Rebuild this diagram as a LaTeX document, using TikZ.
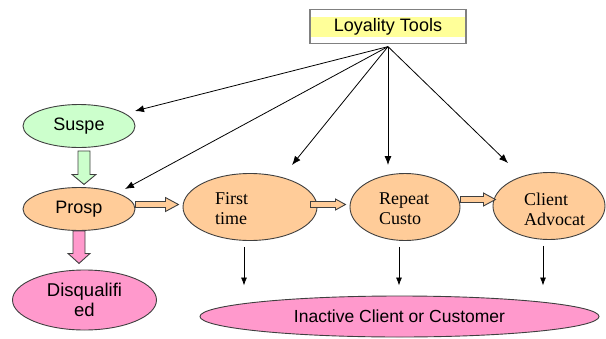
\documentclass[tikz,border=0pt]{standalone}
\usepackage{fontspec}
\setmainfont{Liberation Serif}
\newfontfamily\arialf{Liberation Sans}
\usetikzlibrary{calc,arrows.meta,shapes.geometric}

\definecolor{mintfill}{HTML}{CCFFCC}
\definecolor{peach}{HTML}{FFCC99}
\definecolor{rosefill}{HTML}{FF99CC}
\definecolor{lemon}{HTML}{FFFF99}
\definecolor{rimgray}{HTML}{3F3F3F}
\definecolor{boxgray}{HTML}{808080}

% horizontal block arrow: style, start (left end, mid-line), length, shaft half-width, head half-width, head length
\newcommand\hblockarrow[6]{%
  \draw[#1] ($#2+(0,-#4)$) -- ++({#3-#6},0) -- ++(0,{#4-#5}) -- ++(#6,#5)
    -- ++(-#6,#5) -- ++(0,{#4-#5}) -- ++({#6-#3},0) -- cycle;}
% vertical (downward) block arrow, same arguments
\newcommand\vblockarrow[6]{%
  \draw[#1] ($#2+(-#4,0)$) -- ++(0,{#3-#6}) -- ++({#4-#5},0) -- ++(#5,#6)
    -- ++(#5,-#6) -- ++({#4-#5},0) -- ++(0,{#6-#3}) -- cycle;}

\begin{document}
\begin{tikzpicture}[x=1pt,y=-1pt,
  oval/.style={ellipse, draw=rimgray, line width=0.9pt, inner sep=0pt},
  sanstxt/.style={font=\arialf\fontsize{18}{20}\selectfont, align=center},
  seriftxt/.style={font=\fontsize{18}{20}\selectfont, align=left, anchor=west, inner sep=0pt},
  fanarrow/.style={-{Latex[length=9pt,width=7pt]}, line width=0.8pt, black},
  droparrow/.style={-{Latex[length=8pt,width=6pt]}, line width=0.8pt, black},
  blockbase/.style={draw=rimgray, line width=0.9pt, line join=miter},
  blockg/.style={blockbase, fill=mintfill},
  blockp/.style={blockbase, fill=rosefill},
  blocko/.style={blockbase, fill=peach}]
\useasboundingbox (0,0) rectangle (606,338);

% header box with yellow band
\node[rectangle, draw=boxgray, line width=1.2pt, fill=white,
      minimum width=156, minimum height=34, inner sep=0pt,
      font=\arialf\fontsize{18}{20}\selectfont,
      path picture={\fill[lemon] ($(path picture bounding box.north west)+(1,7)$)
                      rectangle ($(path picture bounding box.south east)+(-1,-6.5)$);}]
      (loyal) at (388,26.5) {Loyality Tools};
\coordinate (fan) at ($(loyal.south)+(0,2.5)$);

% stages
\node[oval, fill=mintfill, minimum width=112, minimum height=43, sanstxt] (suspe) at (79,126) {Suspe};
\node[oval, fill=peach, minimum width=112, minimum height=43, sanstxt] (prosp) at (79,209) {Prosp};
\node[oval, fill=peach, minimum width=134, minimum height=67] (first) at (250,207) {};
\node[oval, fill=peach, minimum width=110, minimum height=67] (rep) at (405,207) {};
\node[oval, fill=peach, minimum width=112, minimum height=67] (client) at (549,206) {};
\node[oval, fill=rosefill, minimum width=144, minimum height=60, sanstxt,
      font=\arialf\fontsize{18.5}{20}\selectfont] (disq) at (84.5,300) {Disqualifi\\ed};
\node[oval, fill=rosefill, minimum width=399, minimum height=41, sanstxt,
      font=\arialf\fontsize{17.5}{20}\selectfont] (inactive) at (399.5,316.5) {Inactive Client or Customer};

\node[seriftxt] (firsttxt) at ($(first.center)+(-35,2)$) {First\\time};
\node[seriftxt] (reptxt) at ($(rep.center)+(-26,2)$) {Repeat\\Custo};
\node[seriftxt] (clienttxt) at ($(client.center)+(-25,3)$) {Client\\Advocat};

% block arrows between stages
\coordinate (gA) at ($(suspe.south)+(5,3)$);
\vblockarrow{blockg}{(gA)}{33.5}{6}{12}{10}
\coordinate (pA) at (prosp.south);
\vblockarrow{blockp}{(pA)}{32.5}{6}{11}{10}
\coordinate (oA) at ($(prosp.east)+(0,-4.5)$);
\hblockarrow{blocko}{(oA)}{43}{3}{7}{13}
\coordinate (oB) at ($(first.east)+(-7,-2.5)$);
\hblockarrow{blocko}{(oB)}{35}{3}{5.5}{10}
\coordinate (oC) at ($(rep.east)+(0,-7.5)$);
\hblockarrow{blocko}{(oC)}{35}{3}{6.5}{12}

% loyalty tools reaching each stage
\draw[fanarrow] (fan) -- ($(suspe.center)+(56,-15)$);
\draw[fanarrow] (fan) -- ($(prosp.center)+(46,-20)$);
\draw[fanarrow] (fan) -- ($(first.center)+(42,-42)$);
\draw[fanarrow] (fan) -- ($(rep.center)+(-17,-42)$);
\draw[fanarrow] (fan) -- ($(client.center)+(-41,-43)$);

% drop-outs to inactive
\foreach \n in {first,rep,client}
  \draw[droparrow] ($(\n.south)+(-6,6)$) -- ($(\n.south |- inactive.north)+(-6,-10)$);
\end{tikzpicture}
\end{document}
